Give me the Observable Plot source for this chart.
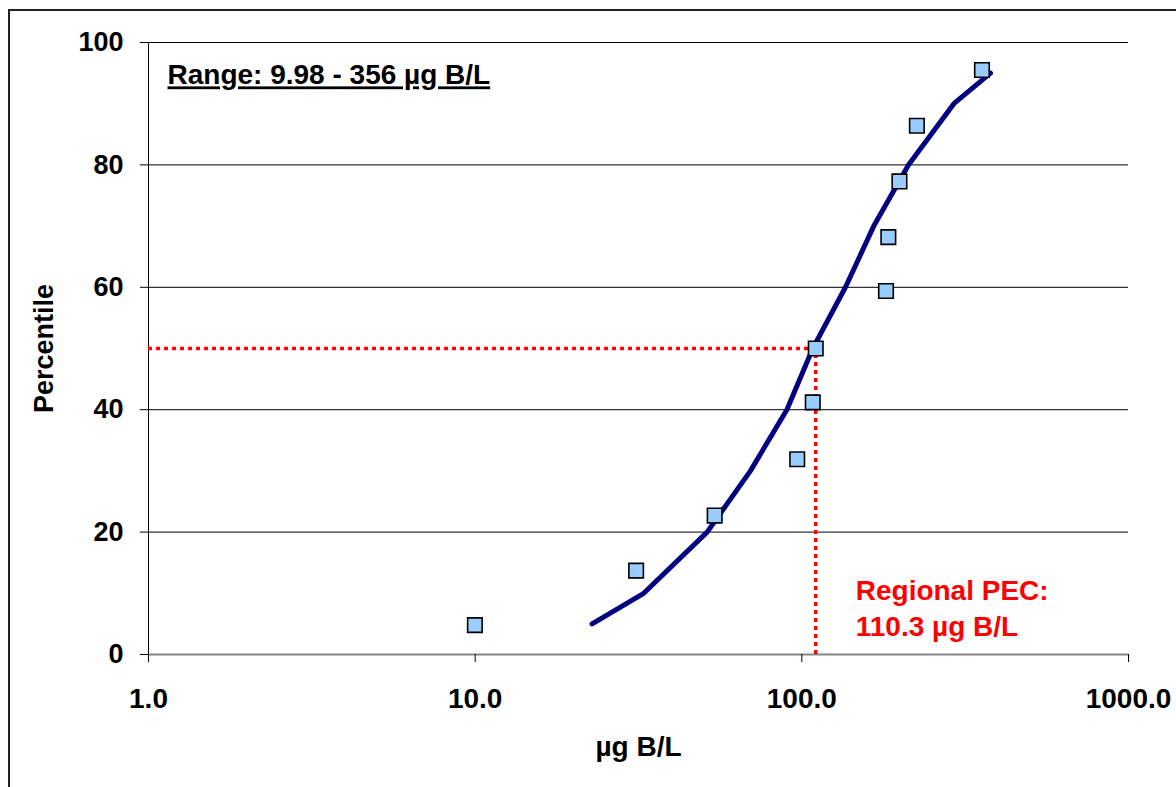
<!DOCTYPE html>
<html>
<head>
<meta charset="utf-8">
<script src="https://cdn.jsdelivr.net/npm/d3@7"></script>
<script src="https://cdn.jsdelivr.net/npm/@observablehq/plot@0.6"></script>
<style>
  html, body { margin: 0; padding: 0; background: #fff; }
  #wrap { position: relative; width: 1176px; height: 787px; overflow: hidden; }
  #border { position: absolute; left: 8px; top: 9px; width: 2000px; height: 2000px;
            border-left: 2px solid #222; border-top: 2px solid #222; pointer-events: none; }
  #chart { position: absolute; left: 0; top: 0; }
</style>
</head>
<body>
<div id="wrap"><div id="chart"></div><div id="border"></div></div>
<script>
// Observed data (concentration, µg B/L), sorted
const obsConc = [9.98, 31.1, 54.1, 96.8, 108, 110.3, 181, 184, 199, 225, 356];
const obsPct = [4.8, 13.7, 22.7, 31.9, 41.2, 50.0, 59.4, 68.2, 77.3, 86.4, 95.5];
// Fitted distribution line
const fitConc = [22.8, 32.8, 51.3, 69.6, 90, 108, 136, 166, 212, 292, 378];
const fitPct = [5, 10, 20, 30, 40, 50, 60, 70, 80, 90, 95];
// Regional PEC
const pec = 110.3;
const pecPct = 50;
// Ticks
const xTicks = [1, 10, 100, 1000];
const yTicks = [0, 20, 40, 60, 80, 100];
const gridTicks = [20, 40, 60, 80, 100];
const rangeLabel = "Range: 9.98 - 356 µg B/L";
const pecLabel = "Regional PEC:\n110.3 µg B/L";
const xTitle = "µg B/L";
const yTitle = "Percentile";

const obs = obsConc.map((c, i) => ({c, p: obsPct[i]}));
const fit = fitConc.map((c, i) => ({c, p: fitPct[i]}));

const font = "'Liberation Sans', Arial, sans-serif";

const chart = Plot.plot({
  width: 1176,
  height: 787,
  marginLeft: 148,
  marginRight: 48,
  marginTop: 42,
  marginBottom: 133,
  style: {fontFamily: font, fontWeight: "bold", fontSize: "28px", color: "black", background: "white", overflow: "visible"},
  x: {type: "log", domain: [1, 1000]},
  y: {domain: [0, 100]},
  marks: [
    Plot.ruleY(gridTicks, {stroke: "black", strokeWidth: 1}),
    Plot.ruleY([0], {stroke: "#858585", strokeWidth: 2}),
    Plot.ruleX([1], {stroke: "black", strokeWidth: 1}),
    Plot.axisX(xTicks, {tickFormat: d => d.toFixed(1), tickSize: 8, tickPadding: 26, fontSize: 28, stroke: "black", label: null}),
    Plot.axisY(yTicks, {tickSize: 8, tickPadding: 17, fontSize: 27, stroke: "black", label: null}),
    Plot.ruleY([pecPct], {x1: 1, x2: pec, stroke: "red", strokeWidth: 3.5, strokeDasharray: "4,4"}),
    Plot.ruleX([pec], {y1: 0, y2: pecPct, stroke: "red", strokeWidth: 3.5, strokeDasharray: "4,4"}),
    Plot.line(fit, {x: "c", y: "p", stroke: "#000080", strokeWidth: 5, strokeLinecap: "round", strokeLinejoin: "round"}),
    Plot.dot(obs, {x: "c", y: "p", symbol: "square", r: 8.2, fill: "#99CCFF", stroke: "black", strokeWidth: 1.6}),
    Plot.text([rangeLabel], {frameAnchor: "top-left", textAnchor: "start", lineAnchor: "top", dx: 19, dy: 22, fontSize: 28, fill: "black"}),
    Plot.text([pecLabel], {x: () => pec, y: () => 0, textAnchor: "start", lineAnchor: "top", dx: 40, dy: -81, fontSize: 28, fill: "red", lineHeight: 1.31}),
    Plot.text([xTitle], {frameAnchor: "bottom", lineAnchor: "middle", dy: 93, fontSize: 28, fill: "black"}),
    Plot.text([yTitle], {frameAnchor: "left", textAnchor: "middle", lineAnchor: "middle", rotate: -90, dx: -104, fontSize: 27, fill: "black"})
  ]
});

d3.select(chart).selectAll("text").each(function() {
  if (this.textContent.startsWith("Range")) {
    this.setAttribute("style", "text-decoration: underline; text-decoration-thickness: 4px; text-underline-offset: 3px;");
  }
});

document.getElementById("chart").appendChild(chart);
</script>
</body>
</html>
